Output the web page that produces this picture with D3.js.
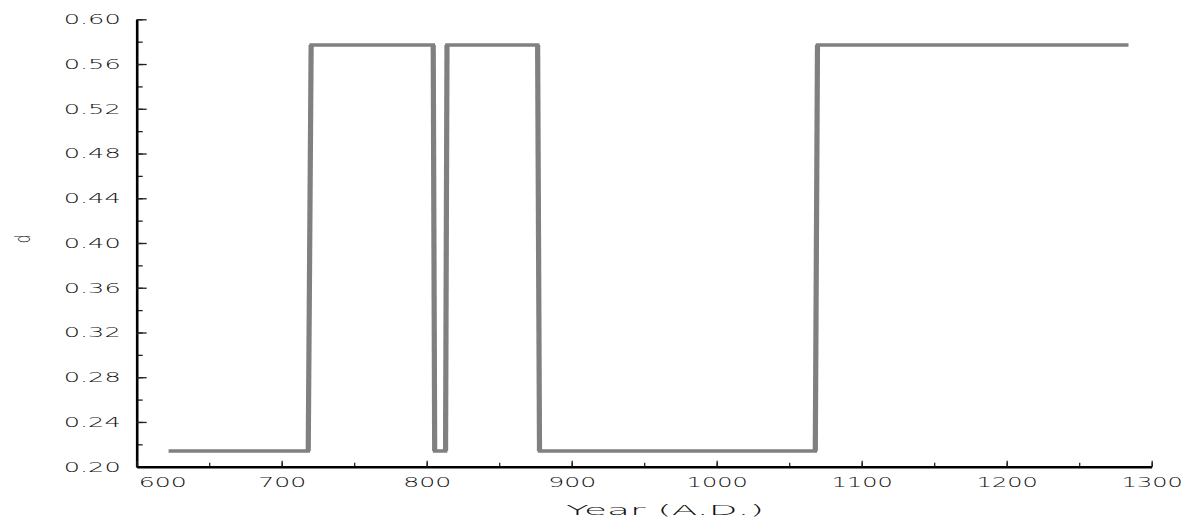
<!DOCTYPE html>
<html>
<head>
<meta charset="utf-8">
<script src="https://cdn.jsdelivr.net/npm/d3@7"></script>
<style>
  html, body { margin: 0; padding: 0; background: #fff; }
  svg { display: block; }
  text { font-family: "DejaVu Sans", sans-serif; fill: #111; }
</style>
</head>
<body>
<svg id="chart" width="1197" height="527"></svg>
<script>
// ---- data ----
const years  = [622, 718.3, 720.3, 804.5, 805.5, 813, 814, 876.5, 877.8, 1068, 1069.5, 1284];
const values = [0.214, 0.214, 0.577, 0.577, 0.214, 0.214, 0.577, 0.577, 0.214, 0.214, 0.577, 0.577];
const xTicks = [600, 700, 800, 900, 1000, 1100, 1200, 1300];
const yTicks = [0.20, 0.24, 0.28, 0.32, 0.36, 0.40, 0.44, 0.48, 0.52, 0.56, 0.60];
const xLabel = "Year (A.D.)";
const yLabel = "d";

const svg = d3.select("#chart");
const x = d3.scaleLinear().domain([600, 1300]).range([136.7, 1151.7]);
const y = d3.scaleLinear().domain([0.20, 0.60]).range([466.7, 19.3]);

// minor ticks
const yMinor = d3.range(0.20, 0.6001, 0.02);
const xMinor = d3.range(600, 1301, 50);

const gyMinor = svg.append("g").attr("transform", `translate(${x(600)},0)`)
  .call(d3.axisLeft(y).tickValues(yMinor).tickSizeInner(-6).tickSizeOuter(0).tickFormat(""));
const gxMinor = svg.append("g").attr("transform", `translate(0,${y(0.20)})`)
  .call(d3.axisBottom(x).tickValues(xMinor).tickSizeInner(-4).tickSizeOuter(0).tickFormat(""));
[gyMinor, gxMinor].forEach(g => {
  g.select(".domain").remove();
  g.selectAll(".tick line").attr("stroke", "#222").attr("stroke-width", 1.3);
});

// major axes
const gy = svg.append("g").attr("transform", `translate(${x(600)},0)`)
  .call(d3.axisLeft(y).tickValues(yTicks).tickSizeInner(-10).tickSizeOuter(0).tickPadding(16)
        .tickFormat(d3.format(".2f")));
const gx = svg.append("g").attr("transform", `translate(0,${y(0.20)})`)
  .call(d3.axisBottom(x).tickValues(xTicks).tickSizeInner(-6).tickSizeOuter(0).tickPadding(10)
        .tickFormat(d3.format("d")));

[gy, gx].forEach(g => {
  g.select(".domain").attr("stroke", "#000").attr("stroke-width", 2.6);
  g.selectAll(".tick line").attr("stroke", "#222").attr("stroke-width", 1.3);
  g.selectAll(".tick text").attr("font-size", 13.5).attr("font-family", "DejaVu Sans")
    .attr("fill", "#111").style("font-weight", 300);
});
gy.selectAll(".tick text").attr("textLength", 57).attr("lengthAdjust", "spacingAndGlyphs");
gx.selectAll(".tick text")
  .attr("font-size", 14)
  .attr("textLength", d => String(d).length === 3 ? 48 : 61)
  .attr("lengthAdjust", "spacingAndGlyphs");
gx.selectAll(".tick text").filter(d => d === 600).attr("text-anchor", "start").attr("x", 1.6);

// line
const pts = years.map((yr, i) => [yr, values[i]]);
const line = d3.line().x(d => x(d[0])).y(d => y(d[1]));
svg.append("path")
  .attr("d", line(pts))
  .attr("fill", "none")
  .attr("stroke", "#808080")
  .attr("stroke-width", 3.6)
  .attr("stroke-linejoin", "miter");

// vertical (transition) segments drawn heavier, as in the reference
const jumps = d3.pairs(pts).filter(([a, b]) => a[1] !== b[1]);
svg.append("g").selectAll("line").data(jumps).join("line")
  .attr("x1", d => x(d[0][0])).attr("y1", d => y(d[0][1]))
  .attr("x2", d => x(d[1][0])).attr("y2", d => y(d[1][1]))
  .attr("stroke", "#808080")
  .attr("stroke-width", 5.2)
  .attr("stroke-linecap", "butt");

// axis titles
svg.append("text")
  .attr("x", 566).attr("y", 515)
  .attr("font-size", 14)
  .attr("textLength", 198).attr("lengthAdjust", "spacingAndGlyphs")
  .style("font-weight", 300)
  .text(xLabel);
svg.append("text")
  .attr("transform", `translate(30,239) rotate(-90) scale(0.85,1.3)`)
  .attr("text-anchor", "middle")
  .attr("font-size", 16)
  .style("font-weight", 300)
  .text(yLabel);
</script>
</body>
</html>
